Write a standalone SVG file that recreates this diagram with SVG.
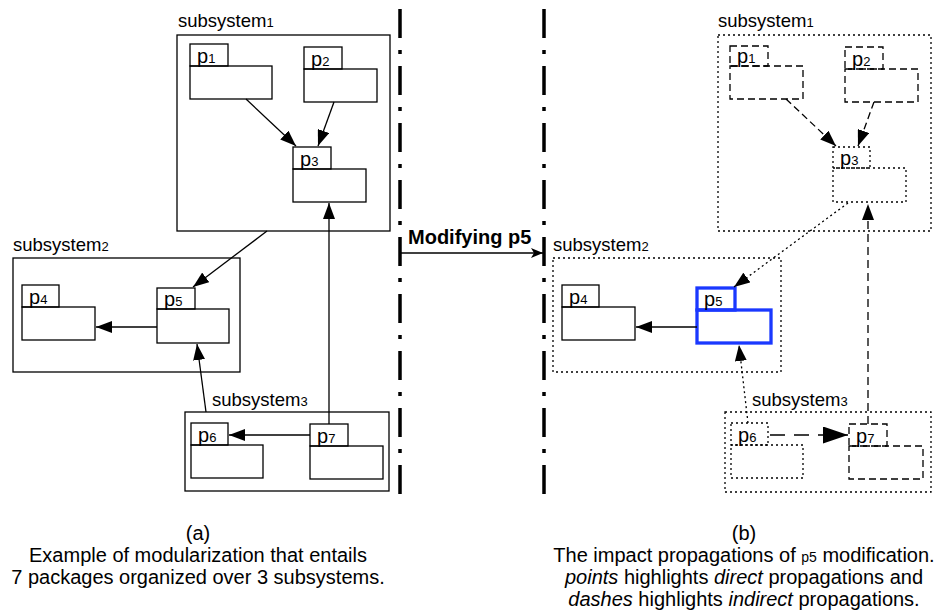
<svg xmlns="http://www.w3.org/2000/svg" width="942" height="615" viewBox="0 0 942 615">
<style>
text{font-family:"Liberation Sans",Arial,Helvetica,sans-serif;fill:#000}
.sl{font-size:18.5px}
.lb{font-size:20px}
.d{font-size:13px}
.cap{font-size:20px;text-anchor:middle}
.it{font-style:italic}
.box{fill:none;stroke:#000;stroke-width:1.3}
.dot{stroke-dasharray:2 3}
.dsh{stroke-dasharray:7 4}
.blue{fill:none;stroke:#1a38ff;stroke-width:3.3}
.ln{fill:none;stroke:#000;stroke-width:1.3}
.sep{fill:none;stroke:#000;stroke-width:3.5;stroke-dasharray:29 12 4 12}
</style>
<defs>
<marker id="ah" markerUnits="userSpaceOnUse" markerWidth="16" markerHeight="12" viewBox="0 0 16 12" refX="16" refY="6" orient="auto"><path d="M0,0 L16,6 L0,12 z" fill="#000"/></marker>
<marker id="ahb" markerUnits="userSpaceOnUse" markerWidth="25" markerHeight="17" viewBox="0 0 25 17" refX="25" refY="8.5" orient="auto"><path d="M0,0 L25,8.5 L0,17 z" fill="#000"/></marker>
<marker id="ahs" markerUnits="userSpaceOnUse" markerWidth="12" markerHeight="10" viewBox="0 0 12 10" refX="12" refY="5" orient="auto"><path d="M0,0 L12,5 L0,10 L3,5 z" fill="#000"/></marker>
</defs>

<!-- separators -->
<g id="separators">
<line class="sep" x1="400" y1="9" x2="400" y2="498"/>
<line class="sep" x1="544" y1="9" x2="544" y2="498"/>
</g>

<!-- ===== Panel (a) ===== -->
<g id="a-subsystem1">
<text class="sl" x="178" y="27">subsystem<tspan class="d">1</tspan></text>
<rect class="box" x="177" y="35" width="213" height="196"/>
</g>
<g id="a-p1"><rect class="box" x="190" y="44" width="38" height="22"/><rect class="box" x="190" y="66" width="82" height="33"/><text class="lb" x="197" y="63">p<tspan class="d">1</tspan></text></g>
<g id="a-p2"><rect class="box" x="304" y="47" width="38" height="22"/><rect class="box" x="304" y="69" width="73" height="33"/><text class="lb" x="311" y="66">p<tspan class="d">2</tspan></text></g>
<g id="a-p3"><rect class="box" x="293" y="147" width="38" height="22"/><rect class="box" x="293" y="169" width="73" height="33"/><text class="lb" x="300" y="166">p<tspan class="d">3</tspan></text></g>

<g id="a-subsystem2">
<text class="sl" x="13" y="251">subsystem<tspan class="d">2</tspan></text>
<rect class="box" x="13" y="258" width="227" height="114"/>
</g>
<g id="a-p4"><rect class="box" x="22" y="285" width="37" height="22"/><rect class="box" x="22" y="307" width="73" height="33"/><text class="lb" x="29" y="304">p<tspan class="d">4</tspan></text></g>
<g id="a-p5"><rect class="box" x="157" y="288" width="38" height="21"/><rect class="box" x="157" y="309" width="72" height="34"/><text class="lb" x="164" y="306">p<tspan class="d">5</tspan></text></g>

<g id="a-subsystem3">
<text class="sl" x="212" y="406">subsystem<tspan class="d">3</tspan></text>
<rect class="box" x="185" y="412" width="204" height="79"/>
</g>
<g id="a-p6"><rect class="box" x="191" y="423" width="37" height="22"/><rect class="box" x="191" y="445" width="72" height="33"/><text class="lb" x="198" y="442">p<tspan class="d">6</tspan></text></g>
<g id="a-p7"><rect class="box" x="310" y="424" width="38" height="22"/><rect class="box" x="310" y="446" width="73" height="33"/><text class="lb" x="317" y="443">p<tspan class="d">7</tspan></text></g>

<!-- ===== Panel (b) ===== -->
<g id="b-subsystem1">
<text class="sl" x="718" y="27">subsystem<tspan class="d">1</tspan></text>
<rect class="box dot" x="718" y="35" width="213" height="196"/>
</g>
<g id="b-p1"><rect class="box dsh" x="730" y="46" width="38" height="20"/><rect class="box dsh" x="730" y="66" width="73" height="33"/><text class="lb" x="737" y="63">p<tspan class="d">1</tspan></text></g>
<g id="b-p2"><rect class="box dsh" x="845" y="47" width="38" height="22"/><rect class="box dsh" x="845" y="69" width="73" height="33"/><text class="lb" x="852" y="66">p<tspan class="d">2</tspan></text></g>
<g id="b-p3"><rect class="box dot" x="833" y="147" width="37" height="21"/><rect class="box dot" x="833" y="168" width="73" height="34"/><text class="lb" x="840" y="165">p<tspan class="d">3</tspan></text></g>

<g id="b-subsystem2">
<text class="sl" x="553" y="251">subsystem<tspan class="d">2</tspan></text>
<rect class="box dot" x="553" y="258" width="228" height="114"/>
</g>
<g id="b-p4"><rect class="box" x="562" y="285" width="37" height="22"/><rect class="box" x="562" y="307" width="73" height="33"/><text class="lb" x="569" y="304">p<tspan class="d">4</tspan></text></g>
<g id="b-p5"><rect class="blue" x="697" y="288" width="38" height="22"/><rect class="blue" x="697" y="310" width="74" height="33"/><text class="lb" x="704" y="306">p<tspan class="d">5</tspan></text></g>

<g id="b-subsystem3">
<text class="sl" x="752" y="406">subsystem<tspan class="d">3</tspan></text>
<rect class="box dot" x="725" y="412" width="206" height="80"/>
</g>
<g id="b-p6"><rect class="box dot" x="731" y="423" width="37" height="22"/><rect class="box dot" x="731" y="445" width="72" height="33"/><text class="lb" x="738" y="442">p<tspan class="d">6</tspan></text></g>
<g id="b-p7"><rect class="box dsh" x="849" y="424" width="38" height="22"/><rect class="box dsh" x="849" y="446" width="74" height="33"/><text class="lb" x="856" y="443">p<tspan class="d">7</tspan></text></g>

<!-- ===== Connectors ===== -->
<g id="connectors">
<!-- panel a -->
<line class="ln" x1="246" y1="99" x2="296" y2="146" marker-end="url(#ah)"/>
<line class="ln" x1="334" y1="102" x2="318" y2="146" marker-end="url(#ah)"/>
<line class="ln" x1="267" y1="231" x2="193" y2="287" marker-end="url(#ah)"/>
<line class="ln" x1="157" y1="327" x2="96" y2="327" marker-end="url(#ah)"/>
<line class="ln" x1="206" y1="412" x2="197" y2="344" marker-end="url(#ah)"/>
<line class="ln" x1="310" y1="435" x2="229" y2="435" marker-end="url(#ah)"/>
<line class="ln" x1="329" y1="424" x2="329" y2="203" marker-end="url(#ah)"/>
<!-- modification arrow -->
<line class="ln" x1="400" y1="253" x2="543" y2="253" stroke-width="1.8" marker-end="url(#ahs)"/>
<!-- panel b -->
<line class="ln dsh" x1="786" y1="99" x2="836" y2="146" marker-end="url(#ah)"/>
<line class="ln dsh" x1="874" y1="102" x2="858" y2="146" marker-end="url(#ah)"/>
<line class="ln dot" x1="848" y1="203" x2="734" y2="287" marker-end="url(#ah)"/>
<line class="ln" x1="697" y1="327" x2="636" y2="327" marker-end="url(#ah)"/>
<line class="ln dot" x1="748" y1="423" x2="739" y2="345" marker-end="url(#ah)"/>
<line class="ln" x1="770" y1="435" x2="848" y2="435" stroke-width="3" stroke-dasharray="15 9" marker-end="url(#ahb)"/>
<line class="ln" x1="868" y1="424" x2="868" y2="204" stroke-dasharray="8 5" marker-end="url(#ah)"/>
</g>

<text x="408" y="244" font-size="20" font-weight="bold">Modifying p5</text>

<!-- captions -->
<g id="caption-a">
<text class="cap" x="198" y="540">(a)</text>
<text class="cap" x="198" y="562">Example of modularization that entails</text>
<text class="cap" x="198" y="584">7 packages organized over 3 subsystems.</text>
</g>
<g id="caption-b">
<text class="cap" x="744" y="540">(b)</text>
<text class="cap" x="744" y="562">The impact propagations of <tspan font-size="14">p5</tspan> modification.</text>
<text class="cap" x="744" y="584"><tspan class="it">points</tspan> highlights <tspan class="it">direct</tspan> propagations and</text>
<text class="cap" x="744" y="606"><tspan class="it">dashes</tspan> highlights <tspan class="it">indirect</tspan> propagations.</text>
</g>
</svg>
